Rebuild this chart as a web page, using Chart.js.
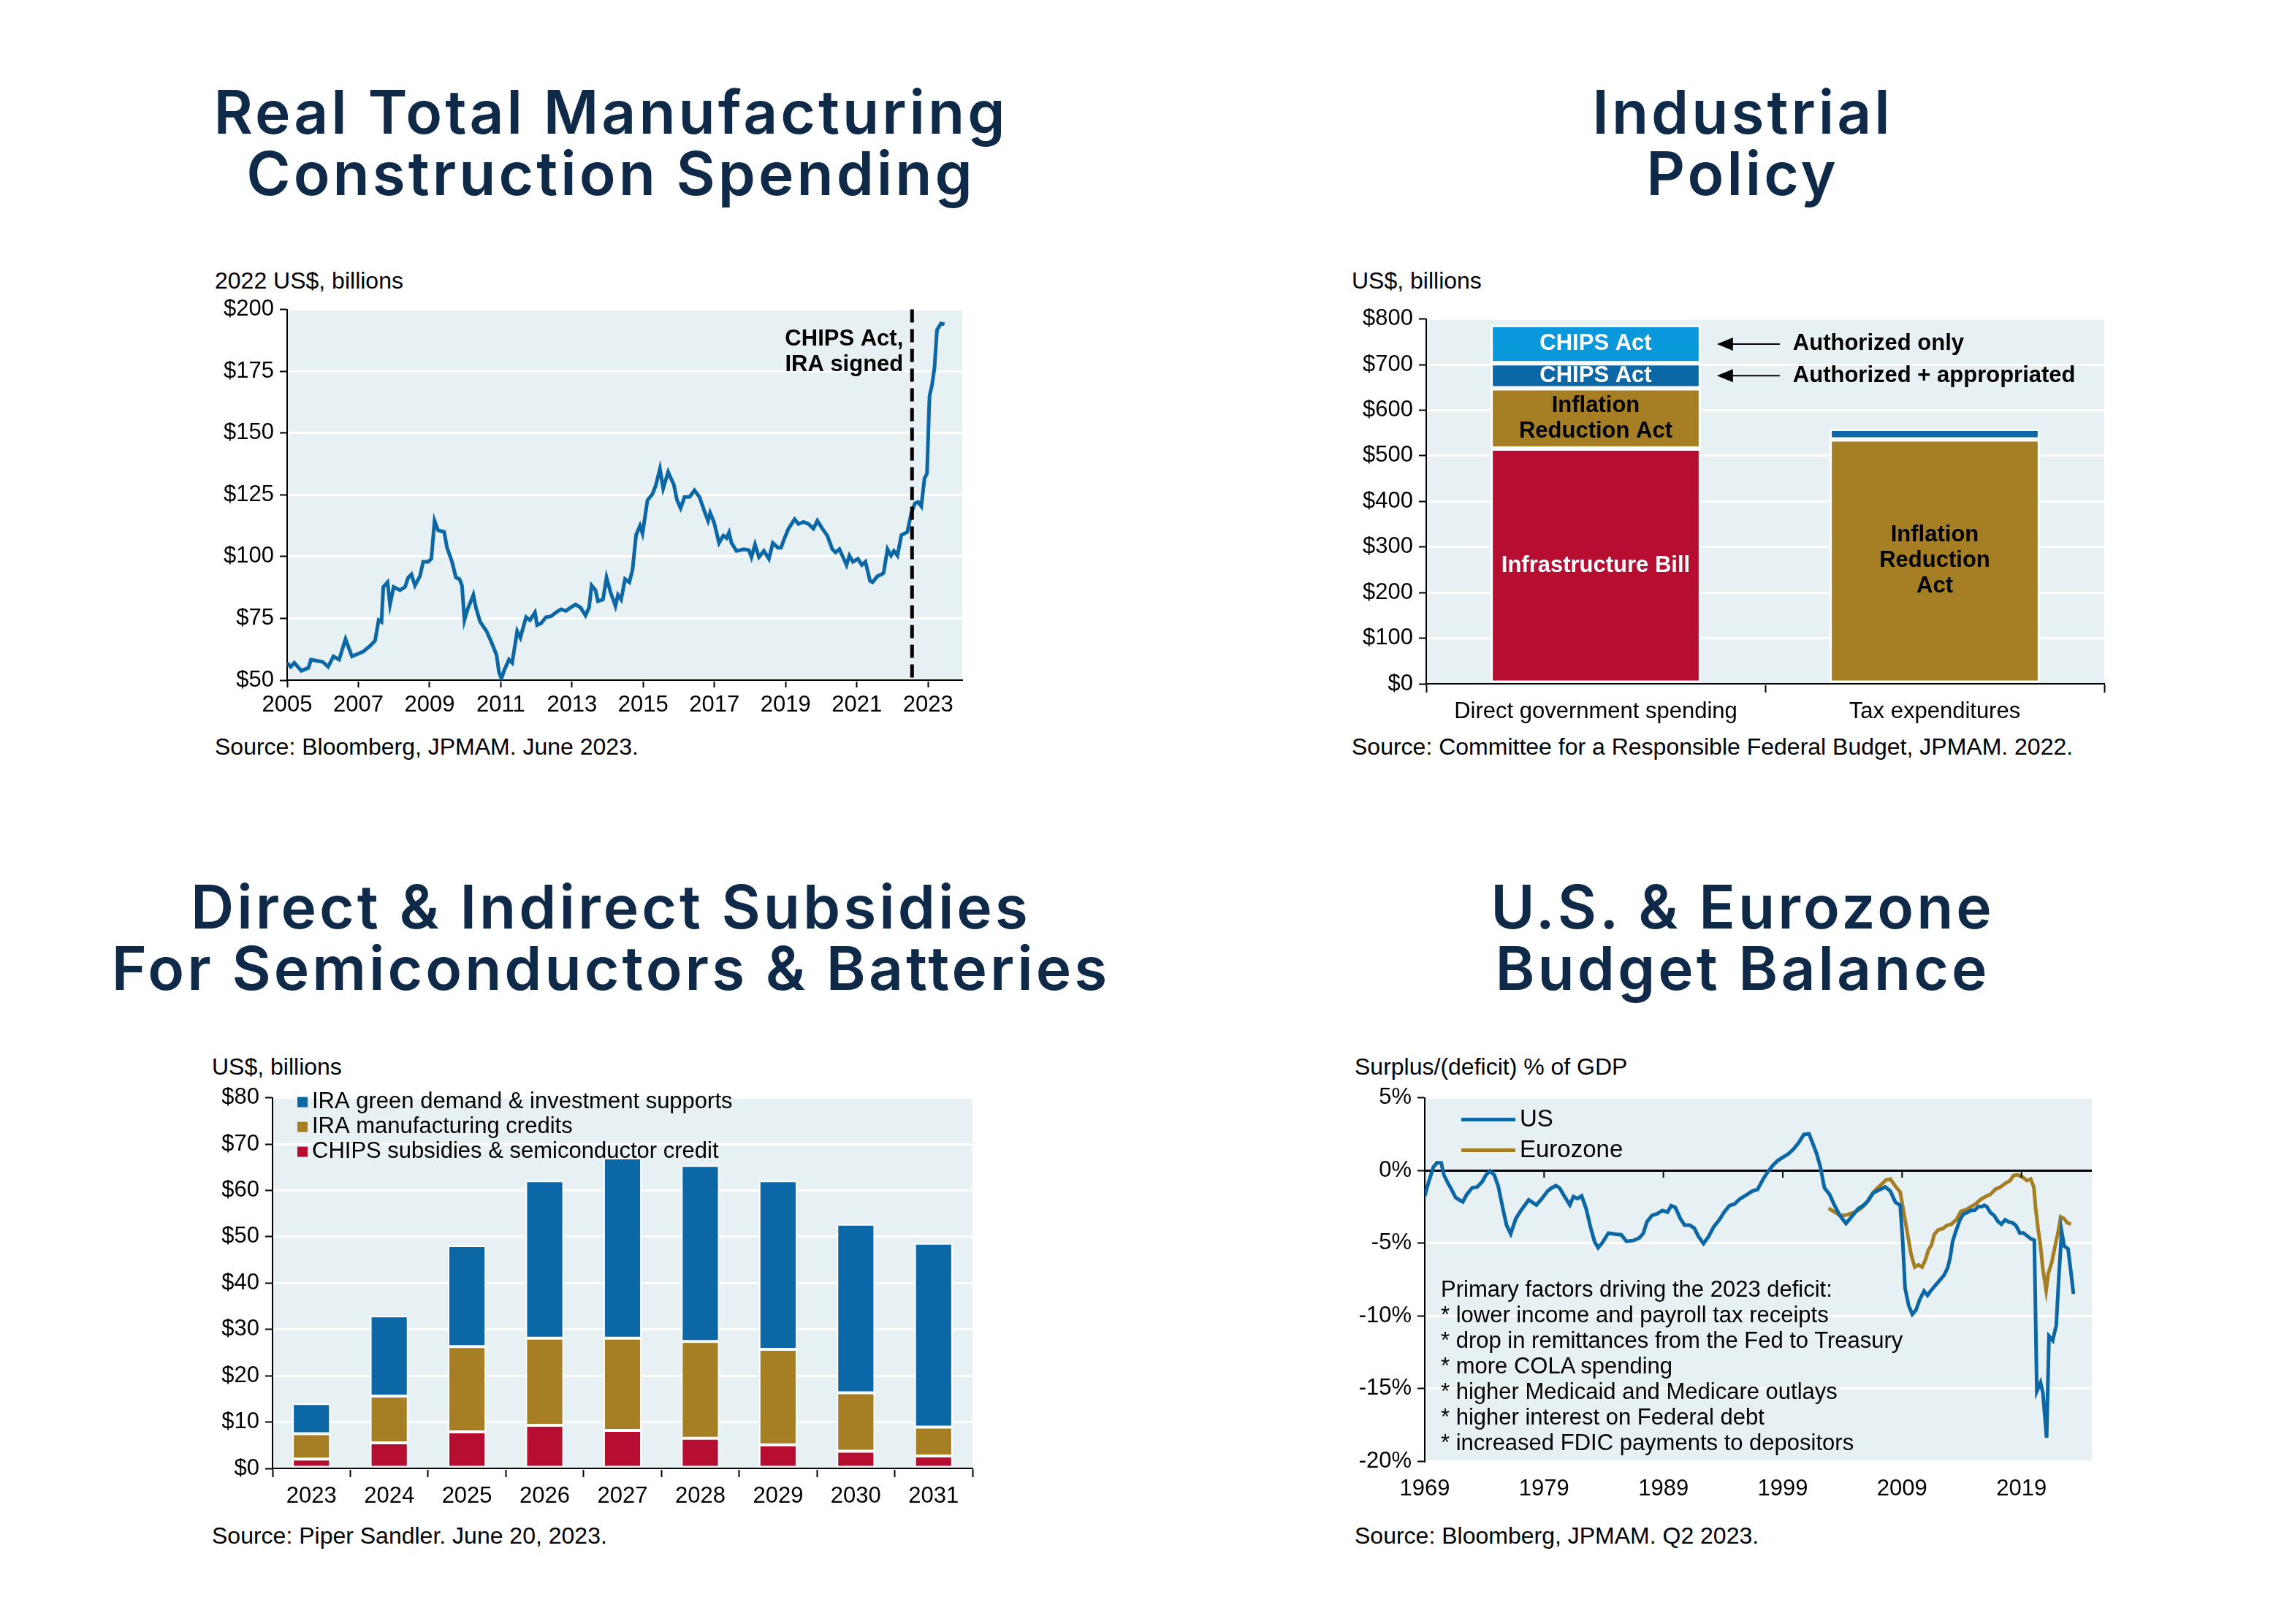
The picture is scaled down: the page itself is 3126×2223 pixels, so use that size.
<!DOCTYPE html>
<html>
<head>
<meta charset="utf-8">
<script src="https://cdn.jsdelivr.net/npm/chart.js@4.4.0/dist/chart.umd.min.js"></script>
<style>
  body { margin: 0; width: 3126px; height: 2223px; background: #fff; position: relative; overflow: hidden;
         font-family: "Liberation Sans", Arial, sans-serif; color: #000; }
  .title { position: absolute; width: 1500px; text-align: center; font-family: "Inter", sans-serif;
           font-weight: 600; font-size: 82px; line-height: 84px; letter-spacing: 4px; color: #0f2a48; }
  .label { position: absolute; font-size: 32px; line-height: 36px; white-space: nowrap; }
  .note { position: absolute; font-size: 31px; line-height: 35px; white-space: nowrap; }
  .box { position: absolute; }
</style>
</head>
<body>

<div class="title" style="left:86px; top:112px;">Real Total Manufacturing<br>Construction Spending</div>
<div class="title" style="left:1635px; top:112px;">Industrial<br>Policy</div>
<div class="title" style="left:86px; top:1200px;">Direct &amp; Indirect Subsidies<br>For Semiconductors &amp; Batteries</div>
<div class="title" style="left:1635px; top:1200px;">U.S. &amp; Eurozone<br>Budget Balance</div>

<div class="label" style="left:294px; top:366px;">2022 US$, billions</div>
<div class="label" style="left:1850px; top:366px;">US$, billions</div>
<div class="label" style="left:290px; top:1442px;">US$, billions</div>
<div class="label" style="left:1854px; top:1442px;">Surplus/(deficit) % of GDP</div>

<div class="label" style="left:294px; top:1004px;">Source: Bloomberg, JPMAM. June 2023.</div>
<div class="label" style="left:1850px; top:1004px;">Source: Committee for a Responsible Federal Budget, JPMAM. 2022.</div>
<div class="label" style="left:290px; top:2084px;">Source: Piper Sandler. June 20, 2023.</div>
<div class="label" style="left:1854px; top:2084px;">Source: Bloomberg, JPMAM. Q2 2023.</div>

<div class="box" style="left:280px; top:397px; width:1080px; height:600px;"><canvas id="manufacturing"></canvas></div>
<div class="box" style="left:1830px; top:410px; width:1100px; height:600px;"><canvas id="policy"></canvas></div>
<div class="box" style="left:280px; top:1476px; width:1080px; height:600px;"><canvas id="subsidies"></canvas></div>
<div class="box" style="left:1830px; top:1476px; width:1100px; height:600px;"><canvas id="budget"></canvas></div>

<div class="note" style="left:1972px; top:1747px;">Primary factors driving the 2023 deficit:<br>* lower income and payroll tax receipts<br>* drop in remittances from the Fed to Treasury<br>* more COLA spending<br>* higher Medicaid and Medicare outlays<br>* higher interest on Federal debt<br>* increased FDIC payments to depositors</div>

<script>
// ---- Real total manufacturing construction spending (2022 US$ bn)
const mfgYears = [
  2005.0, 2005.1, 2005.2, 2005.4, 2005.6, 2005.67, 2006.0, 2006.15, 2006.3, 2006.46, 2006.64, 2006.82,
  2007.13, 2007.34, 2007.47, 2007.57, 2007.65, 2007.7, 2007.82, 2007.89, 2007.99, 2008.17, 2008.31, 2008.4,
  2008.49, 2008.59, 2008.73, 2008.82, 2008.96, 2009.05, 2009.14, 2009.24, 2009.41, 2009.49, 2009.63, 2009.74,
  2009.84, 2009.91, 2009.98, 2010.07, 2010.23, 2010.3, 2010.42, 2010.6, 2010.74, 2010.88, 2010.95, 2011.02,
  2011.09, 2011.23, 2011.32, 2011.46, 2011.55, 2011.71, 2011.82, 2011.96, 2012.02, 2012.13, 2012.27, 2012.41,
  2012.55, 2012.69, 2012.83, 2012.96, 2013.1, 2013.24, 2013.38, 2013.48, 2013.55, 2013.66, 2013.73, 2013.87,
  2013.97, 2014.08, 2014.22, 2014.29, 2014.38, 2014.49, 2014.61, 2014.7, 2014.8, 2014.91, 2014.98, 2015.12,
  2015.26, 2015.36, 2015.47, 2015.56, 2015.7, 2015.86, 2015.95, 2016.05, 2016.16, 2016.3, 2016.44, 2016.58,
  2016.72, 2016.82, 2016.88, 2016.99, 2017.13, 2017.25, 2017.34, 2017.41, 2017.48, 2017.62, 2017.83, 2017.97,
  2018.04, 2018.14, 2018.25, 2018.39, 2018.53, 2018.64, 2018.78, 2018.87, 2018.97, 2019.08, 2019.25, 2019.36,
  2019.5, 2019.64, 2019.78, 2019.89, 2020.03, 2020.17, 2020.31, 2020.4, 2020.51, 2020.61, 2020.71, 2020.79,
  2020.89, 2021.03, 2021.14, 2021.24, 2021.37, 2021.44, 2021.58, 2021.69, 2021.75, 2021.86, 2021.96, 2022.04,
  2022.14, 2022.25, 2022.35, 2022.42, 2022.53, 2022.63, 2022.72, 2022.81, 2022.9, 2022.97, 2023.04, 2023.11,
  2023.18, 2023.25, 2023.36, 2023.46
];
const mfgSpending = [
  57, 55.4, 57, 53.8, 55, 58.3, 57.4, 55.4, 59.6, 58.3, 66.6, 59.6,
  61.5, 64, 66, 74.3, 73.6, 87.7, 89.6, 80.6, 87.7, 86.4, 87.7, 91.5,
  92.8, 88.3, 92.1, 97.9, 97.9, 99.1, 114.5, 110.6, 110, 103.6, 97.9, 91.5,
  90.9, 88.3, 74.3, 78.7, 84.5, 79.4, 73.6, 69.8, 65.3, 60.2, 53.2, 50.6,
  53.8, 58.3, 57, 69.8, 67.2, 75.5, 74.3, 77.4, 72.3, 73, 75.5, 75.8,
  77.4, 78.7, 78, 79.4, 80.6, 79.4, 76.2, 79.4, 88.3, 86.4, 81.9, 82.6,
  91.5, 85.7, 80, 84.5, 82.6, 90.9, 89.6, 94.7, 108.7, 112.5, 109.4, 122.8,
  125.3, 129.1, 135.5, 127.6, 134.2, 129.1, 122.8, 119.6, 124.1, 124.1, 126.8, 124.1,
  118.3, 114.5, 117.7, 113.8, 105.5, 108.5, 107.5, 109.7, 105.5, 102.3, 103, 102.6,
  99.8, 104.9, 99.8, 102.3, 99.1, 105.5, 103.6, 103.6, 107.5, 111.3, 115.1, 113.2,
  114, 113.2, 111.3, 114.5, 111.3, 108.5, 103, 101.7, 103, 99.8, 96.6, 100.4,
  97.9, 99.1, 96.6, 97.9, 90.2, 89.6, 92.1, 92.8, 93.4, 103, 100.4, 102.3,
  100.4, 108.7, 109.4, 110, 117.7, 121.5, 122.1, 120.4, 131.7, 133.6, 164.9, 169.4,
  176.4, 191.7, 194.3, 194
];
const mfgYearTicks = [2005, 2007, 2009, 2011, 2013, 2015, 2017, 2019, 2021, 2023];
const chipsSignedYear = 2022.55;
const chipsNoteLines = ["CHIPS Act,", "IRA signed"];
const chipsNoteValues = [188, 177.5];

// ---- Industrial policy (US$ bn)
const policyCategories = ["Direct government spending", "Tax expenditures"];
const infrastructureBill = [516, null];
const iraPolicy = [132, 536];
const chipsAppropriated = [55, 23];
const chipsAuthorizedOnly = [84, null];
const policySegmentText = [
  ["Infrastructure Bill", ""],
  ["Inflation\nReduction Act", "Inflation\nReduction\nAct"],
  ["CHIPS Act", ""],
  ["CHIPS Act", ""],
];
const policyArrowNotes = ["", "", "Authorized + appropriated", "Authorized only"];

// ---- Direct & indirect subsidies (US$ bn)
const subsidyYears = ["2023", "2024", "2025", "2026", "2027", "2028", "2029", "2030", "2031"];
const chipsSubsidies = [2.0, 5.5, 7.9, 9.3, 8.2, 6.5, 5.1, 3.7, 2.7];
const iraManufacturing = [5.5, 10.1, 18.4, 18.8, 19.9, 20.9, 20.6, 12.6, 6.2];
const iraGreenDemand = [6.5, 17.3, 21.8, 34.0, 38.9, 38.0, 36.4, 36.4, 39.7];

// ---- Budget balance (% of GDP)
const usYears = [
  1969.0, 1969.3, 1969.73, 1970.03, 1970.38, 1970.6, 1970.94, 1971.24, 1971.59, 1971.89, 1972.19, 1972.53,
  1972.97, 1973.4, 1973.83, 1974.13, 1974.47, 1974.82, 1975.16, 1975.55, 1975.85, 1976.2, 1976.63, 1977.06,
  1977.71, 1978.35, 1978.78, 1979.3, 1979.65, 1979.99, 1980.29, 1980.72, 1981.16, 1981.46, 1981.8, 1982.15,
  1982.53, 1982.88, 1983.22, 1983.53, 1983.87, 1984.39, 1985.03, 1985.47, 1985.9, 1986.46, 1986.97, 1987.32,
  1987.62, 1988.05, 1988.48, 1988.91, 1989.34, 1989.65, 1989.99, 1990.42, 1990.77, 1991.2, 1991.59, 1991.93,
  1992.36, 1992.79, 1993.22, 1993.66, 1994.09, 1994.52, 1994.95, 1995.38, 1996.03, 1996.46, 1996.89, 1997.32,
  1997.75, 1998.18, 1998.61, 1999.04, 1999.47, 1999.91, 2000.34, 2000.77, 2001.2, 2001.54, 2001.84, 2002.15,
  2002.49, 2002.92, 2003.35, 2003.78, 2004.3, 2004.86, 2005.29, 2005.72, 2006.16, 2006.59, 2007.15, 2007.58,
  2008.01, 2008.44, 2008.84, 2009.04, 2009.25, 2009.55, 2009.86, 2010.17, 2010.47, 2010.84, 2011.13, 2011.39,
  2011.7, 2012.11, 2012.52, 2012.82, 2013.03, 2013.23, 2013.5, 2013.85, 2014.15, 2014.46, 2014.77, 2015.07,
  2015.38, 2015.69, 2015.89, 2016.1, 2016.4, 2016.71, 2017.02, 2017.32, 2017.63, 2017.94, 2018.24, 2018.55,
  2018.86, 2019.16, 2019.47, 2019.78, 2020.08, 2020.29, 2020.6, 2020.8, 2021.11, 2021.31, 2021.62, 2021.92,
  2022.13, 2022.37, 2022.58, 2022.91, 2023.15, 2023.36
];
const usBalance = [
  -1.76, -0.87, 0.24, 0.53, 0.51, -0.31, -0.87, -1.31, -1.87, -2.03, -2.16, -1.65,
  -1.2, -1.14, -0.76, -0.31, -0.04, -0.31, -1.09, -2.65, -3.76, -4.36, -3.32, -2.76,
  -2.03, -2.38, -1.98, -1.42, -1.2, -1.05, -1.2, -1.8, -2.38, -1.8, -1.94, -1.76,
  -2.65, -3.87, -4.88, -5.32, -4.99, -4.32, -4.39, -4.43, -4.88, -4.83, -4.65, -4.32,
  -3.54, -3.09, -2.98, -2.76, -2.87, -2.43, -2.54, -3.32, -3.76, -3.76, -3.98, -4.54,
  -5.03, -4.54, -3.87, -3.43, -2.87, -2.43, -2.32, -1.98, -1.65, -1.42, -1.31, -0.65,
  -0.09, 0.36, 0.69, 0.91, 1.14, 1.47, 1.91, 2.47, 2.52, 1.8, 1.14, 0.24,
  -1.2, -1.65, -2.43, -3.09, -3.65, -3.09, -2.65, -2.43, -2.09, -1.54, -1.31, -1.14,
  -1.42, -2.2, -2.4, -4.7, -8.1, -9.3, -9.9, -9.6, -8.9, -8.3, -8.6, -8.3,
  -7.99, -7.6, -7.2, -6.7, -6.0, -4.9, -4.2, -3.4, -3.0, -2.9, -2.75, -2.75,
  -2.5, -2.5, -2.4, -2.5, -2.9, -3.1, -3.5, -3.7, -3.4, -3.55, -3.6, -3.8,
  -4.3, -4.3, -4.5, -4.7, -4.8, -15.2, -14.6, -15.3, -18.4, -11.4, -11.7, -10.65,
  -7.4, -4.2, -5.2, -5.4, -7.0, -8.5
];
const euroYears = [
  2002.84, 2003.35, 2003.78, 2004.22, 2004.65, 2005.08, 2005.51, 2005.94, 2006.37, 2006.8, 2007.24, 2007.66,
  2008.01, 2008.44, 2008.84, 2009.14, 2009.45, 2009.76, 2010.06, 2010.37, 2010.68, 2010.98, 2011.19, 2011.45,
  2011.7, 2012.01, 2012.42, 2012.72, 2013.13, 2013.54, 2013.95, 2014.36, 2014.77, 2015.18, 2015.58, 2015.99,
  2016.4, 2016.81, 2017.22, 2017.63, 2018.04, 2018.35, 2018.65, 2019.06, 2019.47, 2019.78, 2020.04, 2020.19,
  2020.39, 2020.6, 2020.8, 2021.07, 2021.25, 2021.55, 2021.82, 2022.09, 2022.29, 2022.54, 2022.84, 2023.15
];
const euroBalance = [
  -2.6, -2.87, -3.09, -3.09, -2.98, -2.87, -2.65, -2.32, -1.76, -1.31, -0.98, -0.65,
  -0.6, -1.09, -1.5, -2.9, -4.35, -5.8, -6.65, -6.5, -6.65, -6.1, -5.5, -5.15,
  -4.4, -4.1, -4.0, -3.8, -3.7, -3.4, -2.8, -2.7, -2.5, -2.3, -2.0, -1.8,
  -1.65, -1.3, -1.15, -0.9, -0.7, -0.35, -0.3, -0.45, -0.7, -0.6, -1.15, -2.6,
  -4.0, -5.2, -6.8, -8.25, -7.1, -6.3, -5.2, -4.2, -3.2, -3.3, -3.6, -3.7
];
const budgetYearTicks = [1969, 1979, 1989, 1999, 2009, 2019];

const blue = "#0b67a5";
const lightBlue = "#0a98dd";
const gold = "#a67f24";
const red = "#b70d31";
const panel = "#e7f0f3";
const tickFont = { family: "Liberation Sans", size: 31 };

Chart.defaults.font.family = "Liberation Sans";
Chart.defaults.color = "#000";
Chart.defaults.animation = false;
Chart.defaults.responsive = true;
Chart.defaults.maintainAspectRatio = false;
Chart.defaults.plugins.legend.display = false;
Chart.defaults.plugins.tooltip.enabled = false;

const plotBackground = {
  id: "plotBackground",
  beforeDraw(chart) {
    const { ctx, chartArea } = chart;
    ctx.save();
    ctx.fillStyle = panel;
    ctx.fillRect(chartArea.left, chartArea.top, chartArea.width, chartArea.height);
    ctx.restore();
  },
};
Chart.register(plotBackground);

function valueAxis(min, max, step, format, width, gridColor) {
  return {
    min: min,
    max: max,
    ticks: { stepSize: step, callback: format, font: tickFont, padding: 8 },
    grid: { color: gridColor || "#fff", lineWidth: 3, tickColor: "#000", tickWidth: 2, tickLength: 10 },
    border: { color: "#000", width: 2 },
    afterFit: (scale) => { scale.width = width; },
  };
}

function fixedTicks(values) {
  return (scale) => { scale.ticks = values.map((v) => ({ value: v })); };
}

function drawLines(ctx, lines, x, y, lineHeight) {
  const top = y - ((lines.length - 1) * lineHeight) / 2;
  lines.forEach((line, i) => ctx.fillText(line, x, top + i * lineHeight));
}

// ---- chart 1
const chipsLine = {
  id: "chipsLine",
  afterDatasetsDraw(chart) {
    const { ctx, chartArea, scales } = chart;
    const x = scales.x.getPixelForValue(chipsSignedYear);
    ctx.save();
    ctx.strokeStyle = "#000";
    ctx.lineWidth = 5;
    ctx.setLineDash([18, 9]);
    ctx.beginPath();
    ctx.moveTo(x, chartArea.top);
    ctx.lineTo(x, chartArea.bottom);
    ctx.stroke();
    ctx.font = "bold 31px 'Liberation Sans'";
    ctx.fillStyle = "#000";
    ctx.textAlign = "right";
    ctx.textBaseline = "middle";
    chipsNoteLines.forEach((line, i) => ctx.fillText(line, x - 12, scales.y.getPixelForValue(chipsNoteValues[i])));
    ctx.restore();
  },
};

new Chart(document.getElementById("manufacturing"), {
  type: "line",
  data: {
    datasets: [{
      data: mfgYears.map((year, i) => ({ x: year, y: mfgSpending[i] })),
      borderColor: blue,
      borderWidth: 5,
      pointRadius: 0,
      tension: 0,
    }],
  },
  options: {
    layout: { padding: { top: 22, right: 43 } },
    scales: {
      x: {
        type: "linear",
        min: 2005,
        max: 2023.96,
        afterBuildTicks: fixedTicks(mfgYearTicks),
        ticks: { font: tickFont, padding: 6, maxRotation: 0, callback: (v) => String(v) },
        grid: { drawOnChartArea: false, tickColor: "#000", tickWidth: 2, tickLength: 10 },
        border: { color: "#000", width: 2 },
        afterFit: (scale) => { scale.height = 66; },
      },
      y: valueAxis(50, 200, 25, (v) => "$" + v, 113),
    },
  },
  plugins: [chipsLine],
});

// ---- chart 2
const policyText = {
  id: "policyText",
  afterDatasetsDraw(chart) {
    const { ctx } = chart;
    ctx.save();
    ctx.font = "bold 31px 'Liberation Sans'";
    ctx.textAlign = "center";
    ctx.textBaseline = "middle";
    chart.data.datasets.forEach((ds, d) => {
      chart.getDatasetMeta(d).data.forEach((bar, i) => {
        const text = policySegmentText[d][i];
        if (!text) return;
        ctx.fillStyle = ds.textColor;
        drawLines(ctx, text.split("\n"), bar.x, (bar.y + bar.base) / 2, 35);
      });
      const note = policyArrowNotes[d];
      if (!note) return;
      const bar = chart.getDatasetMeta(d).data[0];
      const y = (bar.y + bar.base) / 2;
      const x0 = bar.x + bar.width / 2 + 22;
      ctx.fillStyle = "#000";
      ctx.strokeStyle = "#000";
      ctx.lineWidth = 2;
      ctx.beginPath();
      ctx.moveTo(x0 + 18, y);
      ctx.lineTo(x0 + 86, y);
      ctx.stroke();
      ctx.beginPath();
      ctx.moveTo(x0, y);
      ctx.lineTo(x0 + 22, y - 9);
      ctx.lineTo(x0 + 22, y + 9);
      ctx.closePath();
      ctx.fill();
      ctx.textAlign = "left";
      ctx.fillText(note, x0 + 104, y);
      ctx.textAlign = "center";
    });
    ctx.restore();
  },
};

const policyBar = { borderColor: "#fff", borderWidth: 3, borderSkipped: false, barPercentage: 0.62, categoryPercentage: 1 };

new Chart(document.getElementById("policy"), {
  type: "bar",
  data: {
    labels: policyCategories,
    datasets: [
      { ...policyBar, label: "Infrastructure Bill", data: infrastructureBill, backgroundColor: red, textColor: "#fff" },
      { ...policyBar, label: "Inflation Reduction Act", data: iraPolicy, backgroundColor: gold, textColor: "#000" },
      { ...policyBar, label: "CHIPS Act (authorized + appropriated)", data: chipsAppropriated, backgroundColor: blue, textColor: "#fff" },
      { ...policyBar, label: "CHIPS Act (authorized only)", data: chipsAuthorizedOnly, backgroundColor: lightBlue, textColor: "#fff" },
    ],
  },
  options: {
    layout: { padding: { top: 26, right: 50 } },
    scales: {
      x: {
        stacked: true,
        ticks: { font: tickFont, padding: 8, maxRotation: 0, autoSkip: false },
        grid: { offset: true, drawOnChartArea: false, tickColor: "#000", tickWidth: 2, tickLength: 12 },
        border: { color: "#000", width: 2 },
        afterFit: (scale) => { scale.height = 74; },
      },
      y: { ...valueAxis(0, 800, 100, (v) => "$" + v, 122), stacked: true },
    },
  },
  plugins: [policyText],
});

// ---- chart 3
const subsidyLegend = {
  id: "subsidyLegend",
  afterDatasetsDraw(chart) {
    const { ctx, chartArea } = chart;
    ctx.save();
    ctx.font = "31px 'Liberation Sans'";
    ctx.textAlign = "left";
    ctx.textBaseline = "middle";
    const items = chart.data.datasets.slice().reverse();
    items.forEach((ds, i) => {
      const y = chartArea.top + 6 + i * 34;
      ctx.fillStyle = ds.backgroundColor;
      ctx.fillRect(chartArea.left + 34, y - 7, 14, 14);
      ctx.fillStyle = "#000";
      ctx.fillText(ds.label, chartArea.left + 54, y);
    });
    ctx.restore();
  },
};

const subsidyBar = { borderColor: "#fff", borderWidth: 2, borderSkipped: false, barPercentage: 0.49, categoryPercentage: 1 };

new Chart(document.getElementById("subsidies"), {
  type: "bar",
  data: {
    labels: subsidyYears,
    datasets: [
      { ...subsidyBar, label: "CHIPS subsidies & semiconductor credit", data: chipsSubsidies, backgroundColor: red },
      { ...subsidyBar, label: "IRA manufacturing credits", data: iraManufacturing, backgroundColor: gold },
      { ...subsidyBar, label: "IRA green demand & investment supports", data: iraGreenDemand, backgroundColor: blue },
    ],
  },
  options: {
    layout: { padding: { top: 26, right: 29 } },
    scales: {
      x: {
        stacked: true,
        ticks: { font: tickFont, padding: 8, maxRotation: 0 },
        grid: { offset: true, drawOnChartArea: false, tickColor: "#000", tickWidth: 2, tickLength: 12 },
        border: { color: "#000", width: 2 },
        afterFit: (scale) => { scale.height = 66; },
      },
      y: { ...valueAxis(0, 80, 10, (v) => "$" + v, 93), stacked: true },
    },
  },
  plugins: [subsidyLegend],
});

// ---- chart 4
const budgetExtras = {
  id: "budgetExtras",
  afterDatasetsDraw(chart) {
    const { ctx, chartArea, scales } = chart;
    const y0 = scales.y.getPixelForValue(0);
    ctx.save();
    ctx.strokeStyle = "#000";
    ctx.lineWidth = 2;
    budgetYearTicks.slice(1).forEach((year) => {
      const x = scales.x.getPixelForValue(year);
      ctx.beginPath();
      ctx.moveTo(x, y0);
      ctx.lineTo(x, y0 + 10);
      ctx.stroke();
    });
    ctx.font = "33px 'Liberation Sans'";
    ctx.textBaseline = "middle";
    chart.data.datasets.forEach((ds, i) => {
      const y = chartArea.top + 30 + i * 42;
      ctx.strokeStyle = ds.borderColor;
      ctx.lineWidth = 5;
      ctx.beginPath();
      ctx.moveTo(chartArea.left + 50, y);
      ctx.lineTo(chartArea.left + 124, y);
      ctx.stroke();
      ctx.fillStyle = "#000";
      ctx.fillText(ds.label, chartArea.left + 130, y);
    });
    ctx.restore();
  },
};

new Chart(document.getElementById("budget"), {
  type: "line",
  data: {
    datasets: [
      {
        label: "US",
        data: usYears.map((year, i) => ({ x: year, y: usBalance[i] })),
        borderColor: blue, borderWidth: 5, pointRadius: 0, tension: 0,
      },
      {
        label: "Eurozone",
        data: euroYears.map((year, i) => ({ x: year, y: euroBalance[i] })),
        borderColor: gold, borderWidth: 5, pointRadius: 0, tension: 0,
      },
    ],
  },
  options: {
    layout: { padding: { top: 22, right: 67 } },
    scales: {
      x: {
        type: "linear",
        min: 1969,
        max: 2024.9,
        afterBuildTicks: fixedTicks(budgetYearTicks),
        ticks: { font: tickFont, padding: 12, maxRotation: 0, callback: (v) => String(v) },
        grid: { display: false },
        border: { display: false },
        afterFit: (scale) => { scale.height = 76; },
      },
      y: valueAxis(-20, 5, 5, (v) => v + "%", 120, (c) => (c.tick.value === 0 ? "#000" : "#fff")),
    },
  },
  plugins: [budgetExtras],
});
</script>
</body>
</html>
